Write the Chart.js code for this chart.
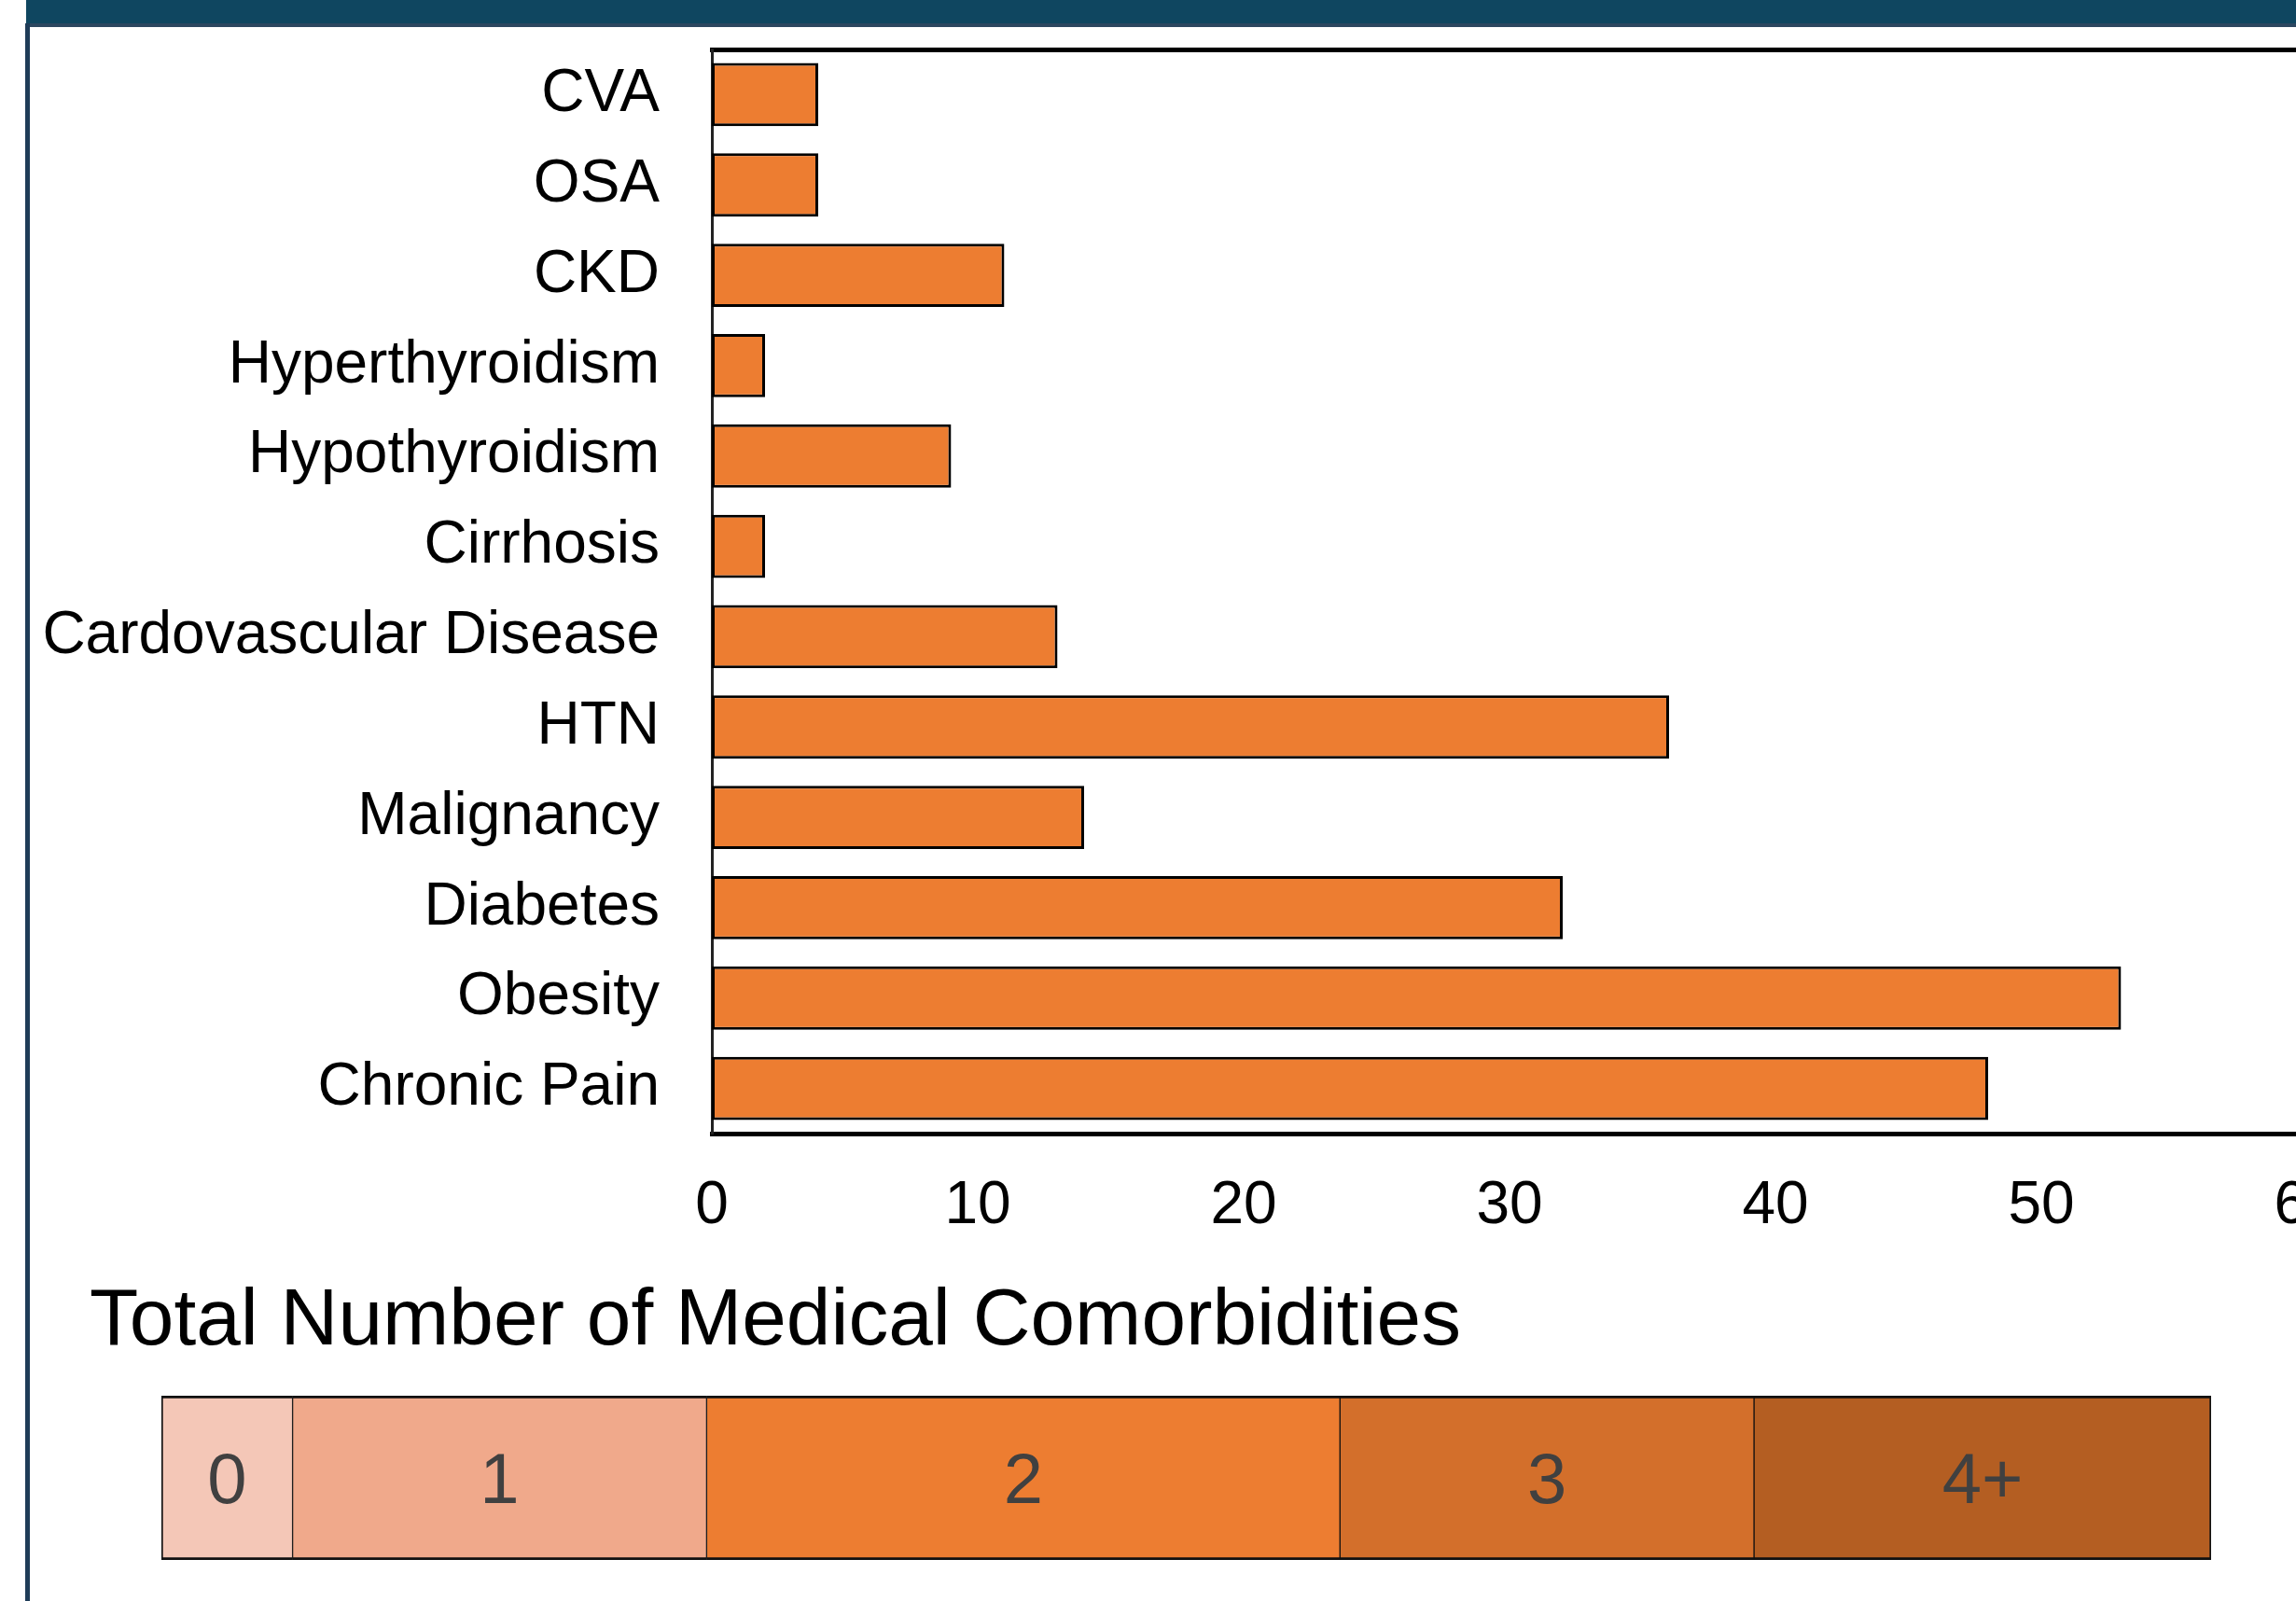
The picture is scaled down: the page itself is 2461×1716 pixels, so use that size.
<!DOCTYPE html>
<html>
<head>
<meta charset="utf-8">
<title>Medical Comorbidities</title>
<script src="https://cdn.jsdelivr.net/npm/chart.js@4.4.1/dist/chart.umd.min.js"></script>
<style>
  html, body { margin: 0; padding: 0; background: #fff; overflow: hidden; width: 2461px; height: 1716px; }
  #header { position: absolute; left: 28px; top: 0; width: 2433px; height: 25px; background: #0f4660; }
  #headerEdge { position: absolute; left: 27px; top: 25px; width: 2434px; height: 4px; background: #2c4760; }
  #frameLeft { position: absolute; left: 27px; top: 25px; width: 5px; height: 1691px; background: #1f3c58; }
  #barsWrap { position: absolute; left: 0; top: 0; width: 2560px; height: 1340px; }
  #legendWrap { position: absolute; left: 0; top: 1460px; width: 2461px; height: 250px; }
  #groupTitle { position: absolute; left: 96px; top: 1369px; font: 85.6px/1 "Liberation Sans", Arial, sans-serif; color: #000; white-space: nowrap; }
</style>
</head>
<body>
<div id="header"></div>
<div id="headerEdge"></div>
<div id="frameLeft"></div>
<div id="barsWrap"><canvas id="bars" width="2560" height="1340"></canvas></div>
<div id="groupTitle">Total Number of Medical Comorbidities</div>
<div id="legendWrap"><canvas id="groups" width="2461" height="250"></canvas></div>
<script>
// Comorbidity counts
const categories = ['CVA', 'OSA', 'CKD', 'Hyperthyroidism', 'Hypothyroidism', 'Cirrhosis',
  'Cardovascular Disease', 'HTN', 'Malignancy', 'Diabetes', 'Obesity', 'Chronic Pain'];
const counts = [4, 4, 11, 2, 9, 2, 13, 36, 14, 32, 53, 48];
const xMin = 0;
const xMax = 60;
const xStep = 10;

// Share of patients by total number of comorbidities (%)
const groupLabels = ['0', '1', '2', '3', '4+'];
const groupShares = [6.4, 20.2, 30.9, 20.2, 22.3];
const groupColors = ['#f4c7b7', '#f0a98b', '#ed7d31', '#d36f2b', '#b45e22'];

Chart.defaults.font.family = '"Liberation Sans", Arial, sans-serif';
Chart.defaults.color = '#000';

new Chart(document.getElementById('bars'), {
  type: 'bar',
  data: {
    labels: categories,
    datasets: [{
      data: counts,
      backgroundColor: '#ed7d31',
      borderColor: '#000',
      borderWidth: 3,
      borderSkipped: false,
      categoryPercentage: 1,
      barPercentage: 0.7
    }]
  },
  options: {
    indexAxis: 'y',
    responsive: false,
    animation: false,
    devicePixelRatio: 1,
    layout: { padding: { top: 53, right: 87, left: 0, bottom: 0 } },
    plugins: { legend: { display: false }, tooltip: { enabled: false } },
    scales: {
      x: {
        position: 'bottom',
        min: xMin, max: xMax,
        grid: { display: false, drawTicks: false },
        border: { display: true, width: 5, color: '#000' },
        ticks: { stepSize: xStep, autoSkip: false, maxRotation: 0, padding: 40, font: { size: 64 }, color: '#000' },
        afterFit(scale) { scale.height = 125; }
      },
      // top frame line of the plot
      xTop: {
        axis: 'x',
        position: 'top',
        min: xMin, max: xMax,
        grid: { display: false, drawTicks: false },
        border: { display: true, width: 5, color: '#000' },
        ticks: { display: false },
        afterFit(scale) { scale.height = 0; }
      },
      y: {
        grid: { display: false, drawTicks: false },
        border: { display: true, width: 3, color: '#222' },
        ticks: { padding: 56, font: { size: 64 }, color: '#000', autoSkip: false },
        afterFit(scale) {
          scale.width = 763;
          // category labels sit inside the plot height; no extra room above or below
          scale.paddingTop = 0;
          scale.paddingBottom = 0;
        }
      }
    }
  }
});

// Writes each group's label in the middle of its segment
const segmentLabels = {
  id: 'segmentLabels',
  afterDatasetsDraw(chart) {
    const ctx = chart.ctx;
    const size = 76;
    ctx.save();
    ctx.font = size + 'px "Liberation Sans", Arial, sans-serif';
    ctx.fillStyle = '#404040';
    ctx.textAlign = 'center';
    ctx.textBaseline = 'alphabetic';
    chart.data.datasets.forEach((ds, i) => {
      const el = chart.getDatasetMeta(i).data[0];
      ctx.fillText(ds.label, (el.x + el.base) / 2, el.y + size * 0.716 / 2);
    });
    ctx.restore();
  }
};

const last = groupLabels.length - 1;
new Chart(document.getElementById('groups'), {
  type: 'bar',
  data: {
    labels: ['Comorbidities'],
    datasets: groupLabels.map((label, i) => ({
      label: label,
      data: [groupShares[i]],
      backgroundColor: groupColors[i],
      borderColor: '#111',
      borderWidth: { top: 3, bottom: 3, left: i === 0 ? 2 : 1, right: i === last ? 2 : 1 },
      borderSkipped: false,
      categoryPercentage: 1,
      barPercentage: 1
    }))
  },
  options: {
    indexAxis: 'y',
    responsive: false,
    animation: false,
    devicePixelRatio: 1,
    layout: { padding: { top: 36, bottom: 38, left: 173, right: 91 } },
    plugins: { legend: { display: false }, tooltip: { enabled: false } },
    scales: {
      x: { stacked: true, min: 0, max: groupShares.reduce((a, b) => a + b, 0), display: false },
      y: { stacked: true, display: false }
    }
  },
  plugins: [segmentLabels]
});
</script>
</body>
</html>
